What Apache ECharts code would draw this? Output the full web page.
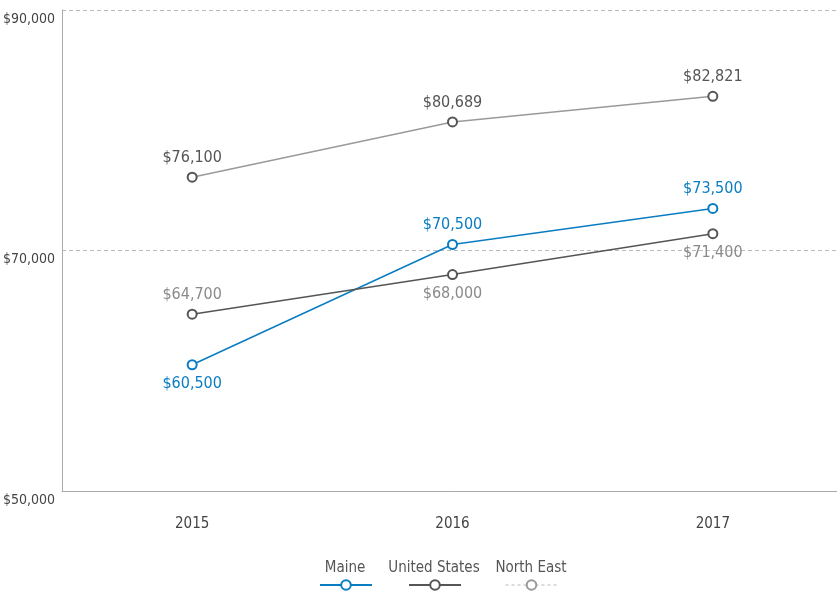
<!DOCTYPE html>
<html><head><meta charset="utf-8">
<script src="https://cdn.jsdelivr.net/npm/echarts@6/dist/echarts.min.js"></script>
<style>html,body{margin:0;padding:0;background:#fff}#c{width:837px;height:593px}</style>
</head><body><div id="c"></div>
<script>
const years = ['2015', '2016', '2017'];
const seriesNames = ['Maine', 'United States', 'North East'];
const maine = [60500, 70500, 73500];
const unitedStates = [64700, 68000, 71400];
const northEast = [76100, 80689, 82821];
const yTicks = [50000, 70000, 90000];

const FONT = '"DejaVu Sans", sans-serif';
const FSTYLE = 'condensed';
const fmt = v => '$' + v.toLocaleString('en-US');
const lineColors = ['#0a7dc2', '#555555', '#9a9a9a'];
const markerColors = ['#0a7dc2', '#555555', '#555555'];
const labelColors = ['#0a7dc2', '#8a8a8a', '#555555'];
const positions = [['bottom', 'top', 'top'], ['top', 'bottom', 'bottom'], ['top', 'top', 'top']];
const values = [maine, unitedStates, northEast];

const chart = echarts.init(document.getElementById('c'));
const legendX = [319, 408, 505];
chart.setOption({
  animation: false,
  textStyle: { fontFamily: FONT, fontStyle: FSTYLE },
  grid: { left: 62, right: -6, top: 10, bottom: 102, outerBoundsMode: 'none', containLabel: false },
  xAxis: {
    type: 'category', data: years, boundaryGap: true,
    axisLine: { lineStyle: { color: '#aaaaaa', width: 1 } },
    axisTick: { show: false },
    axisLabel: { color: '#444', fontSize: 15, fontFamily: FONT, fontStyle: FSTYLE, margin: 26 }
  },
  yAxis: {
    type: 'value', min: yTicks[0], max: yTicks[2], interval: 20000,
    axisLine: { show: true, lineStyle: { color: '#aaaaaa', width: 1 } },
    axisTick: { show: false },
    splitLine: { lineStyle: { color: '#bbbbbb', type: [4, 3] } },
    axisLabel: { color: '#444', fontSize: 14, fontFamily: FONT, fontStyle: FSTYLE, margin: 7, verticalAlign: 'top', formatter: fmt, padding: [2, 0, 0, 0] }
  },
  legend: seriesNames.map((n, i) => ({
    left: legendX[i], top: 579, itemWidth: 52, itemHeight: 12, padding: 0,
    data: [i === 2
      ? { name: n, lineStyle: { type: [3, 3], width: 1, color: '#bbbbbb' }, itemStyle: { color: '#999999', borderColor: '#999999' } }
      : { name: n }],
    formatter: () => '', selectedMode: false
  })),
  graphic: seriesNames.map((n, i) => ({
    type: 'text', x: legendX[i] + 26, y: 568,
    style: { text: n, fontSize: 15, fontFamily: FONT, fontStyle: FSTYLE, fill: '#555', align: 'center', verticalAlign: 'middle' }
  })),
  series: values.map((vals, i) => ({
    name: seriesNames[i], type: 'line', data: vals.map((v, j) => ({
      value: v, label: { position: positions[i][j] }
    })),
    symbol: 'emptyCircle', symbolSize: 9,
    lineStyle: { color: lineColors[i], width: 1.5 },
    itemStyle: { color: markerColors[i], borderColor: markerColors[i], borderWidth: 1.5 },
    label: { show: true, formatter: p => fmt(p.value), color: labelColors[i], fontSize: 16, fontFamily: FONT, fontStyle: FSTYLE, distance: 6 },
    emphasis: { disabled: true }
  }))
});
</script></body></html>
